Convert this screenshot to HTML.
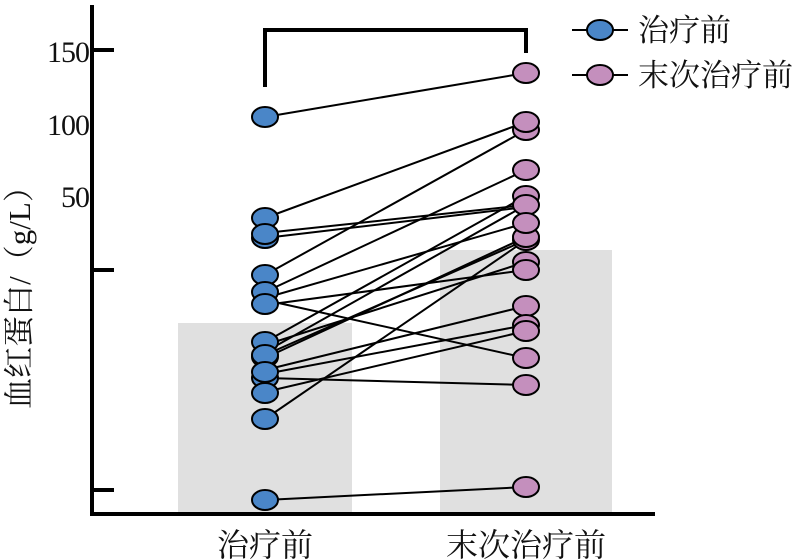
<!DOCTYPE html>
<html><head><meta charset="utf-8"><style>body{margin:0;background:#fff}svg{display:block}</style></head><body>
<svg width="804" height="560" viewBox="0 0 804 560" xmlns="http://www.w3.org/2000/svg">
<rect x="178" y="323" width="174" height="190" fill="#e0e0e0"/>
<rect x="440" y="250" width="172" height="263" fill="#e0e0e0"/>
<g stroke="#000" stroke-width="4" fill="none">
<path d="M92 5 V514 H655"/>
<path d="M92 50 H114 M92 270 H114 M92 490 H114"/>
<path d="M265 87 V30 H526 V53" stroke-width="4"/>
</g>
<g font-family="Liberation Serif, serif" font-size="30" fill="#111" text-anchor="end" letter-spacing="-1">
<text x="89" y="62">150</text><text x="89" y="135">100</text><text x="89" y="207">50</text>
</g>
<text transform="translate(30,290) rotate(-90)" font-family="Liberation Serif, 'Noto Serif CJK SC', serif" font-size="31" text-anchor="middle" fill="#111">血红蛋白/（g/L）</text>
<g font-family="'Liberation Serif','Noto Serif CJK SC',serif" font-size="32" fill="#111" text-anchor="middle">
<text x="265" y="556">治疗前</text><text x="526" y="556">末次治疗前</text>
</g>
<g stroke="#000" stroke-width="2">
<line x1="265" y1="117" x2="526" y2="73"/>
<line x1="265" y1="218" x2="526" y2="122"/>
<line x1="265" y1="233" x2="526" y2="205"/>
<line x1="265" y1="238" x2="526" y2="207"/>
<line x1="265" y1="275" x2="526" y2="130"/>
<line x1="265" y1="292" x2="526" y2="170"/>
<line x1="265" y1="298" x2="526" y2="223"/>
<line x1="265" y1="305" x2="526" y2="270"/>
<line x1="265" y1="300" x2="526" y2="358"/>
<line x1="265" y1="342" x2="526" y2="196"/>
<line x1="265" y1="345" x2="526" y2="262"/>
<line x1="265" y1="352" x2="526" y2="205"/>
<line x1="265" y1="355" x2="526" y2="240"/>
<line x1="265" y1="358" x2="526" y2="237"/>
<line x1="265" y1="370" x2="526" y2="306"/>
<line x1="265" y1="374" x2="526" y2="325"/>
<line x1="265" y1="378" x2="526" y2="385"/>
<line x1="265" y1="392" x2="526" y2="331"/>
<line x1="265" y1="419" x2="526" y2="240"/>
<line x1="265" y1="500" x2="526" y2="487"/>
<line x1="572" y1="30" x2="628" y2="30"/>
<line x1="572" y1="75" x2="628" y2="75"/>
</g>
<g fill="#4a86c8" stroke="#000" stroke-width="2">
<ellipse cx="265" cy="117" rx="13" ry="10"/><ellipse cx="265" cy="218" rx="13" ry="10"/>
<ellipse cx="265" cy="238" rx="13" ry="10"/><ellipse cx="265" cy="234" rx="13" ry="10"/>
<ellipse cx="265" cy="275" rx="13" ry="10"/><ellipse cx="265" cy="292" rx="13" ry="10"/>
<ellipse cx="265" cy="304" rx="13" ry="10"/><ellipse cx="265" cy="342" rx="13" ry="10"/>
<ellipse cx="265" cy="357" rx="13" ry="10"/><ellipse cx="265" cy="355" rx="13" ry="10"/>
<ellipse cx="265" cy="378" rx="13" ry="10"/><ellipse cx="265" cy="372" rx="13" ry="10"/>
<ellipse cx="265" cy="393" rx="13" ry="10"/><ellipse cx="265" cy="419" rx="13" ry="10"/>
<ellipse cx="265" cy="500" rx="13" ry="10"/>
<ellipse cx="600" cy="30" rx="13" ry="10"/>
</g>
<g fill="#c48fbd" stroke="#000" stroke-width="2">
<ellipse cx="526" cy="73" rx="13" ry="10"/><ellipse cx="526" cy="130" rx="13" ry="10"/>
<ellipse cx="526" cy="122" rx="13" ry="10"/><ellipse cx="526" cy="170" rx="13" ry="10"/>
<ellipse cx="526" cy="196" rx="13" ry="10"/><ellipse cx="526" cy="205" rx="13" ry="10"/>
<ellipse cx="526" cy="240" rx="13" ry="10"/><ellipse cx="526" cy="237" rx="13" ry="10"/>
<ellipse cx="526" cy="223" rx="13" ry="10"/>
<ellipse cx="526" cy="262" rx="13" ry="10"/><ellipse cx="526" cy="270" rx="13" ry="10"/>
<ellipse cx="526" cy="306" rx="13" ry="10"/><ellipse cx="526" cy="325" rx="13" ry="10"/>
<ellipse cx="526" cy="331" rx="13" ry="10"/><ellipse cx="526" cy="358" rx="13" ry="10"/>
<ellipse cx="526" cy="385" rx="13" ry="10"/><ellipse cx="526" cy="487" rx="13" ry="10"/>
<ellipse cx="600" cy="75" rx="13" ry="10"/>
</g>
<g font-family="'Liberation Serif','Noto Serif CJK SC',serif" font-size="31" fill="#111">
<text x="638" y="41">治疗前</text><text x="638" y="86">末次治疗前</text>
</g>
</svg>
</body></html>
